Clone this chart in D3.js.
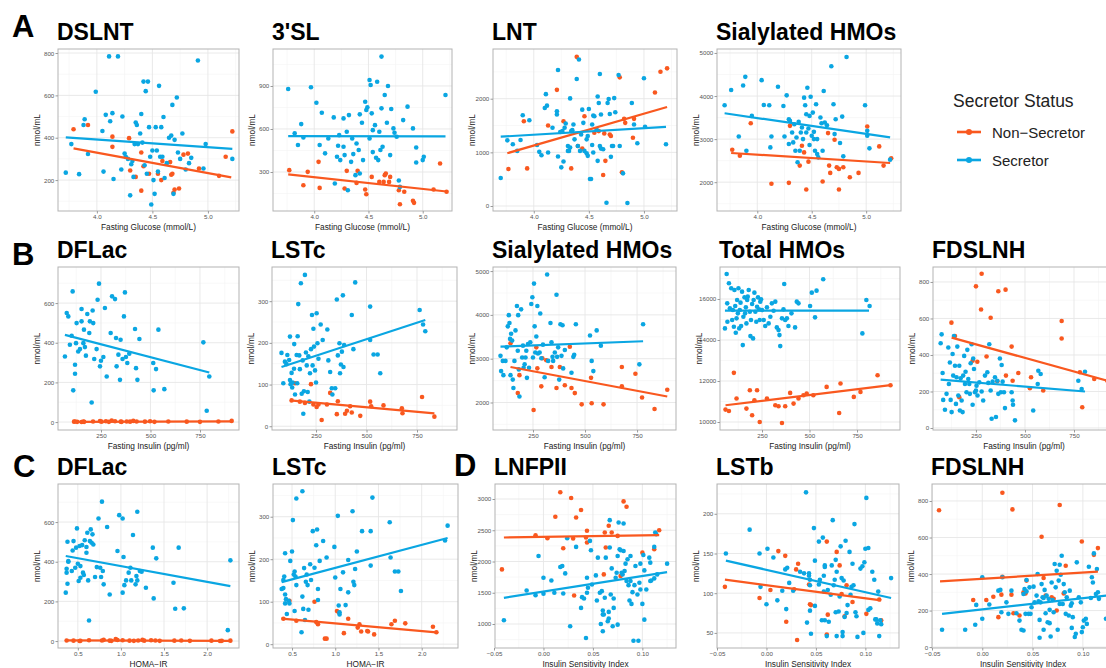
<!DOCTYPE html>
<html>
<head>
<meta charset="utf-8">
<script src="https://cdn.jsdelivr.net/npm/d3@7"></script>
<style>
body { margin: 0; background: #fff; }
</style>
</head>
<body>
<script>
// ---- data: [x, y] pairs ----

// A: fasting glucose
const glucoseTicks = [4.0, 4.5, 5.0];
const dslntSec = [[3.72,235],[3.77,370],[3.84,228],[3.88,460],[3.89,487],[3.92,323],[3.99,617],[4.05,432],[4.06,240],[4.08,508],[4.11,784],[4.12,478],[4.14,516],[4.15,205],[4.19,784],[4.22,250],[4.23,500],[4.25,325],[4.26,310],[4.28,300],[4.30,128],[4.31,275],[4.32,290],[4.33,215],[4.34,370],[4.35,472],[4.36,460],[4.37,370],[4.39,420],[4.40,512],[4.41,377],[4.42,665],[4.43,270],[4.44,620],[4.45,230],[4.46,665],[4.47,450],[4.48,310],[4.49,85],[4.50,340],[4.51,200],[4.52,135],[4.53,450],[4.54,340],[4.55,240],[4.56,645],[4.57,310],[4.58,450],[4.59,310],[4.60,498],[4.61,210],[4.63,280],[4.65,400],[4.67,410],[4.68,555],[4.69,135],[4.70,390],[4.72,590],[4.73,330],[4.75,300],[4.77,420],[4.80,250],[4.83,280],[4.85,305],[4.91,765],[4.96,255],[4.98,370],[5.22,300]];
const dslntNon = [[3.79,440],[3.92,460],[4.14,405],[4.14,357],[4.29,398],[4.30,245],[4.35,215],[4.40,330],[4.40,150],[4.42,265],[4.47,230],[4.55,230],[4.58,200],[4.59,290],[4.66,285],[4.67,225],[4.68,230],[4.69,140],[4.70,155],[4.74,160],[4.78,320],[4.82,325],[4.92,255],[5.10,220],[5.16,310],[5.22,430]];
const dslntSecFit = [[3.72,402],[5.22,347]];
const dslntNonFit = [[3.79,350],[5.21,213]];

const sl3Sec = [[3.76,879],[3.82,570],[3.85,488],[3.88,634],[3.90,541],[3.97,891],[4.02,783],[4.05,488],[4.07,713],[4.10,430],[4.13,534],[4.18,681],[4.19,220],[4.21,406],[4.22,483],[4.23,557],[4.24,383],[4.27,674],[4.27,476],[4.28,418],[4.30,581],[4.31,173],[4.32,697],[4.34,371],[4.35,534],[4.36,425],[4.38,278],[4.39,499],[4.41,453],[4.42,702],[4.42,290],[4.44,644],[4.45,383],[4.47,790],[4.48,732],[4.49,751],[4.51,534],[4.51,942],[4.52,907],[4.53,709],[4.54,592],[4.54,439],[4.56,627],[4.57,399],[4.58,930],[4.59,383],[4.60,581],[4.61,453],[4.62,1105],[4.62,744],[4.63,476],[4.65,837],[4.67,644],[4.68,900],[4.70,418],[4.71,739],[4.73,604],[4.74,574],[4.76,546],[4.78,241],[4.79,196],[4.82,662],[4.86,756],[4.91,604],[4.94,471],[4.94,366],[5.00,383],[5.01,406],[5.21,837]];
const sl3Non = [[3.77,313],[3.90,208],[3.94,301],[4.04,371],[4.05,189],[4.28,185],[4.30,308],[4.39,224],[4.40,308],[4.47,178],[4.48,145],[4.53,266],[4.60,231],[4.64,231],[4.65,278],[4.66,290],[4.69,231],[4.70,266],[4.78,173],[4.79,75],[4.83,162],[4.91,99],[4.92,85],[5.10,178],[5.16,359],[5.22,162]];
const sl3SecFit = [[3.76,550],[5.21,548]];
const sl3NonFit = [[3.76,283],[5.22,164]];

const lntSec = [[3.70,523],[3.76,1224],[3.81,1150],[3.85,1027],[3.88,1230],[3.90,1691],[3.96,1599],[4.03,1138],[4.05,1009],[4.07,947],[4.11,2085],[4.10,1827],[4.12,1870],[4.13,996],[4.17,1458],[4.21,1704],[4.21,1765],[4.22,922],[4.22,2534],[4.24,1378],[4.25,720],[4.26,1396],[4.27,830],[4.28,1458],[4.29,1537],[4.31,1119],[4.31,1027],[4.32,1027],[4.33,1089],[4.33,2005],[4.34,1396],[4.35,1414],[4.36,1519],[4.37,1242],[4.39,2368],[4.40,1119],[4.41,2730],[4.42,1027],[4.43,1334],[4.44,1796],[4.45,1550],[4.46,1027],[4.48,984],[4.48,1242],[4.49,935],[4.49,1304],[4.50,1808],[4.51,504],[4.52,504],[4.53,1138],[4.53,1519],[4.54,996],[4.54,1685],[4.55,1673],[4.57,1427],[4.58,842],[4.58,2042],[4.59,1919],[4.60,1119],[4.60,2460],[4.61,1070],[4.61,1704],[4.63,1058],[4.66,62],[4.67,1919],[4.68,1993],[4.69,1716],[4.70,916],[4.71,1119],[4.72,1119],[4.73,2011],[4.74,1747],[4.77,2442],[4.78,1119],[4.81,609],[4.85,55],[4.89,1919],[4.91,1519],[4.94,1169],[5.00,2380],[5.01,1476],[5.20,1150]];
const lntNon = [[3.77,689],[3.91,1580],[3.94,701],[4.13,1500],[4.21,2165],[4.27,1580],[4.34,701],[4.39,2780],[4.40,1119],[4.44,1070],[4.46,1673],[4.55,1365],[4.59,1396],[4.63,578],[4.64,1353],[4.65,842],[4.69,1334],[4.70,1304],[4.78,2398],[4.80,627],[4.82,1624],[4.83,1550],[4.90,1273],[4.91,1624],[5.10,2116],[5.15,2503],[5.21,2565]];
const lntSecFit = [[3.70,1292],[5.20,1476]];
const lntNonFit = [[3.76,984],[5.21,1845]];

const sialGSec = [[3.70,3785],[3.76,4139],[3.83,3062],[3.87,4246],[3.89,4446],[3.90,2731],[3.95,3539],[4.04,4369],[4.06,3793],[4.11,3785],[4.12,2808],[4.13,3062],[4.19,4216],[4.24,3769],[4.25,3062],[4.27,4016],[4.29,2885],[4.29,3462],[4.30,3423],[4.32,3154],[4.33,2924],[4.34,3346],[4.35,2731],[4.36,3039],[4.37,2462],[4.38,3400],[4.39,2731],[4.40,3154],[4.41,3269],[4.42,3000],[4.43,3962],[4.44,3785],[4.45,3154],[4.45,3577],[4.46,4193],[4.47,3246],[4.48,2862],[4.48,3539],[4.49,3985],[4.50,3077],[4.51,3616],[4.52,3169],[4.52,3000],[4.53,2731],[4.54,3808],[4.55,3000],[4.55,2654],[4.56,2577],[4.58,3500],[4.59,3369],[4.60,2731],[4.61,4116],[4.62,3385],[4.64,3323],[4.68,4692],[4.70,3808],[4.71,3116],[4.72,3462],[4.76,2908],[4.78,3523],[4.79,2600],[4.82,4908],[4.99,3785],[5.01,3077],[5.01,3192],[5.03,2785],[5.22,2523]];
const sialGNon = [[3.77,2754],[3.84,2615],[3.94,3369],[4.13,1962],[4.29,1985],[4.30,3308],[4.39,2385],[4.41,2846],[4.43,2692],[4.45,1831],[4.47,2477],[4.60,2016],[4.65,3139],[4.66,2385],[4.67,2215],[4.71,2985],[4.73,2346],[4.75,2308],[4.75,1831],[4.79,2346],[4.85,2115],[4.93,2215],[5.01,3292],[5.12,2831],[5.16,2385],[5.23,2554]];
const sialGSecFit = [[3.70,3600],[5.22,3039]];
const sialGNonFit = [[3.76,2677],[5.22,2446]];

// B: fasting insulin
const insulinTicks = [250, 500, 750];
const dflacISec = [[68,331],[77,550],[85,533],[93,390],[102,435],[107,659],[110,160],[119,244],[119,289],[124,398],[127,499],[135,356],[144,368],[152,508],[152,570],[161,398],[164,466],[169,378],[174,335],[181,545],[191,449],[194,508],[203,99],[208,563],[211,499],[216,318],[228,368],[233,617],[240,698],[245,281],[250,309],[262,328],[270,575],[279,230],[299,449],[306,634],[321,620],[326,424],[329,281],[338,340],[346,213],[349,415],[359,318],[366,533],[371,654],[376,328],[383,298],[393,345],[422,469],[427,272],[434,213],[444,419],[514,298],[528,267],[540,466],[516,160],[570,166],[767,402],[784,57],[797,230]];
const dflacINon = [[114,2],[119,3],[130,1],[152,0],[161,2],[165,1],[210,3],[245,5],[253,2],[275,4],[290,1],[304,8],[321,4],[350,2],[354,1],[380,3],[397,2],[413,6],[430,3],[472,2],[498,4],[520,1],[590,3],[683,2],[750,1],[843,3],[910,6]];
const dflacISecFit = [[68,440],[797,250]];
const dflacINonFit = [[114,1],[910,4]];

const lstcISec = [[79,176],[88,103],[96,155],[104,149],[108,171],[117,159],[121,215],[121,111],[124,101],[129,128],[132,93],[134,105],[141,138],[142,197],[146,76],[154,171],[157,103],[159,216],[162,293],[167,170],[170,137],[175,343],[179,78],[184,158],[187,30],[190,84],[195,363],[200,177],[204,146],[209,82],[212,168],[217,59],[220,127],[225,185],[230,267],[233,146],[237,234],[240,191],[245,134],[250,105],[253,271],[257,199],[262,162],[273,244],[283,207],[306,232],[311,158],[320,130],[328,91],[331,76],[345,91],[353,304],[358,170],[366,199],[369,127],[373,148],[378,179],[383,314],[386,142],[389,195],[435,185],[444,345],[427,267],[518,287],[518,207],[535,172],[555,172],[568,127],[763,279],[780,244],[791,228]];
const lstcINon = [[129,62],[146,103],[170,59],[195,56],[225,101],[237,52],[253,46],[262,52],[278,15],[304,52],[320,80],[353,29],[358,60],[394,30],[403,37],[419,48],[427,33],[469,25],[518,59],[523,48],[584,50],[675,43],[678,31],[775,70],[836,23]];
const lstcISecFit = [[79,142],[791,255]];
const lstcINonFit = [[121,62],[836,31]];

const sialISec = [[94,3065],[97,2717],[105,2949],[108,2624],[118,2949],[124,3259],[129,3738],[134,3994],[137,3816],[140,3452],[142,2624],[145,3568],[150,3413],[153,2523],[156,2330],[161,2949],[166,3646],[173,4203],[177,3181],[179,3994],[182,2755],[185,2136],[193,4126],[198,3026],[202,3297],[205,2794],[210,2871],[214,3026],[218,3181],[221,2562],[226,3336],[231,2794],[237,3375],[242,4249],[247,4404],[250,3026],[255,4714],[258,3738],[261,3142],[266,3506],[271,4203],[274,3119],[282,3142],[285,4033],[290,3011],[298,3320],[306,2577],[318,4923],[323,2949],[334,3816],[339,3375],[344,3042],[347,2949],[355,3142],[363,4458],[366,3042],[371,3259],[376,2523],[382,3785],[387,3065],[392,3762],[395,2778],[403,3197],[435,2678],[444,3042],[448,3088],[456,3785],[524,3529],[532,2949],[540,2717],[556,3646],[576,3297],[761,2871],[779,3785]];
const sialINon = [[142,3352],[177,2214],[185,2624],[253,1827],[266,3259],[271,2779],[290,2368],[295,3011],[314,2964],[339,2810],[363,2330],[379,2810],[403,2392],[427,3274],[435,2330],[451,2214],[484,1958],[529,2562],[532,1981],[589,1958],[677,2810],[677,2368],[742,2655],[774,2113],[834,1850],[895,2291]];
const sialISecFit = [[94,3274],[779,3398]];
const sialINonFit = [[142,2810],[895,2136]];

const totalISec = [[55,14566],[64,17223],[67,15788],[68,14892],[76,16766],[81,15544],[88,16522],[93,14973],[97,15462],[102,14647],[105,16440],[109,15658],[112,14354],[116,15055],[119,15951],[123,15299],[126,16522],[130,14566],[133,15462],[137,15821],[140,14680],[145,16359],[149,13751],[152,15136],[158,16081],[161,15299],[165,15592],[168,14810],[172,15951],[175,16114],[180,16440],[186,15381],[189,14190],[192,14973],[198,15756],[203,14077],[206,15951],[210,16310],[215,15381],[220,14892],[224,15625],[229,16081],[234,15495],[238,14973],[241,15870],[245,15984],[250,15462],[259,14973],[267,14680],[276,15592],[285,14810],[294,15136],[302,15788],[311,15430],[320,15870],[328,14614],[337,14484],[342,14240],[346,13702],[355,15055],[363,15495],[367,16734],[372,14973],[381,15055],[389,14680],[405,15299],[424,14614],[433,15870],[442,15788],[503,15658],[512,16310],[529,15104],[537,16407],[572,16962],[778,14321],[799,15951],[816,15658]];
const totalINon = [[58,10605],[76,10540],[102,12398],[116,11145],[168,10654],[186,11550],[198,10328],[210,11061],[224,11550],[238,10002],[276,11145],[320,10817],[337,10768],[355,9953],[372,10768],[398,11420],[416,10898],[442,11145],[468,11306],[485,11387],[520,11306],[590,11713],[656,10442],[663,11876],[733,11225],[768,11469],[858,12284],[926,11795]];
const totalISecFit = [[55,15430],[813,15430]];
const totalINonFit = [[58,10817],[926,11795]];

const fdslnhISec = [[70,464],[75,513],[80,301],[83,154],[92,100],[100,187],[109,441],[112,241],[117,359],[121,154],[126,87],[131,405],[134,287],[138,504],[143,341],[148,132],[151,278],[155,446],[160,178],[165,341],[168,96],[172,272],[177,151],[182,87],[185,287],[190,395],[194,241],[197,308],[202,196],[206,428],[211,268],[216,241],[219,187],[223,355],[228,459],[233,127],[236,381],[240,323],[245,196],[250,205],[253,232],[258,178],[267,250],[279,200],[287,151],[296,287],[308,305],[313,247],[318,459],[325,205],[330,51],[335,254],[347,278],[352,60],[359,259],[364,187],[372,381],[377,196],[381,345],[386,254],[393,196],[398,109],[432,196],[437,151],[439,127],[449,42],[542,96],[565,241],[568,314],[580,296],[772,259],[789,214],[806,308]];
const fdslnhINon = [[125,577],[143,504],[165,169],[233,368],[250,776],[257,363],[279,845],[276,649],[304,392],[325,604],[359,256],[364,749],[401,758],[403,287],[432,446],[437,259],[466,301],[525,218],[531,278],[593,205],[687,586],[687,490],[780,305],[792,114],[853,268],[920,259]];
const fdslnhISecFit = [[70,265],[806,200]];
const fdslnhINonFit = [[126,495],[920,259]];

// C: HOMA-IR
const homaTicks = [0.5, 1.0, 1.5, 2.0];
const dflacHSec = [[0.36,244],[0.37,365],[0.37,345],[0.38,501],[0.38,289],[0.39,403],[0.39,400],[0.43,353],[0.44,457],[0.45,504],[0.47,370],[0.48,471],[0.49,568],[0.50,390],[0.51,303],[0.52,479],[0.53,319],[0.53,378],[0.55,484],[0.56,345],[0.57,333],[0.58,508],[0.60,474],[0.60,445],[0.61,546],[0.62,306],[0.63,104],[0.64,504],[0.65,563],[0.66,496],[0.67,538],[0.68,487],[0.70,323],[0.72,373],[0.74,618],[0.76,370],[0.77,323],[0.78,703],[0.79,353],[0.80,286],[0.84,575],[0.87,235],[0.96,454],[0.98,635],[1.02,618],[1.02,244],[1.03,424],[1.04,282],[1.06,306],[1.09,345],[1.11,370],[1.12,306],[1.14,535],[1.17,286],[1.18,328],[1.19,306],[1.19,652],[1.22,353],[1.24,350],[1.29,269],[1.37,471],[1.38,215],[1.41,417],[1.61,294],[1.63,163],[1.67,471],[1.73,165],[2.24,55],[2.27,407]];
const dflacHNon = [[0.37,3],[0.45,2],[0.52,0],[0.53,1],[0.63,4],[0.78,3],[0.80,6],[0.87,2],[0.89,1],[0.94,10],[0.96,5],[1.02,4],[1.10,2],[1.15,1],[1.20,3],[1.25,6],[1.27,2],[1.35,4],[1.40,3],[1.45,1],[1.62,2],[1.70,3],[1.80,1],[2.05,2],[2.15,0],[2.17,1],[2.27,2]];
const dflacHSecFit = [[0.36,429],[2.27,277]];
const dflacHNonFit = [[0.37,3],[2.27,1]];

const lstcHSec = [[0.38,130],[0.40,151],[0.40,132],[0.41,159],[0.42,214],[0.42,117],[0.42,96],[0.43,106],[0.44,71],[0.46,102],[0.47,96],[0.48,196],[0.50,218],[0.51,292],[0.52,164],[0.53,171],[0.53,78],[0.54,159],[0.55,343],[0.55,139],[0.61,28],[0.62,360],[0.62,112],[0.63,83],[0.64,179],[0.65,57],[0.66,147],[0.67,164],[0.68,139],[0.69,81],[0.71,188],[0.72,151],[0.74,266],[0.76,180],[0.78,233],[0.79,270],[0.80,130],[0.80,104],[0.82,196],[0.86,243],[0.90,204],[0.99,229],[1.00,157],[1.03,302],[1.04,91],[1.05,75],[1.05,70],[1.06,130],[1.09,169],[1.12,92],[1.15,122],[1.15,198],[1.20,313],[1.21,147],[1.22,139],[1.23,177],[1.25,218],[1.31,266],[1.41,266],[1.41,185],[1.43,345],[1.63,287],[1.64,204],[1.69,171],[1.73,171],[1.76,125],[2.27,244],[2.30,279]];
const lstcHNon = [[0.40,60],[0.47,102],[0.55,55],[0.76,100],[0.78,52],[0.80,47],[0.88,13],[0.90,13],[1.02,78],[1.04,75],[1.10,26],[1.15,60],[1.26,39],[1.28,47],[1.30,30],[1.37,31],[1.38,30],[1.45,23],[1.65,47],[1.69,55],[1.81,49],[2.13,41],[2.17,28]];
const lstcHSecFit = [[0.38,146],[2.30,250]];
const lstcHNonFit = [[0.38,60],[2.17,28]];

// D: insulin sensitivity index
const isiTicks = [-0.05, 0.00, 0.05, 0.10];
const lnfp2Sec = [[-0.040,1060],[-0.017,1537],[-0.008,1462],[-0.005,2089],[0.000,1483],[0.000,1740],[0.008,1697],[0.011,1499],[0.017,1912],[0.019,1928],[0.020,1488],[0.022,1810],[0.024,2373],[0.027,963],[0.033,2234],[0.038,1258],[0.039,1430],[0.041,1408],[0.043,776],[0.044,1499],[0.044,1740],[0.045,1580],[0.047,2330],[0.048,2180],[0.049,1633],[0.053,1778],[0.054,1376],[0.055,2062],[0.057,1499],[0.058,1000],[0.059,1526],[0.060,1215],[0.060,1151],[0.060,883],[0.061,1151],[0.062,1419],[0.063,2062],[0.065,1044],[0.066,1087],[0.066,1194],[0.067,2223],[0.067,2662],[0.068,1472],[0.069,1890],[0.070,963],[0.071,1258],[0.071,1408],[0.073,1740],[0.074,1821],[0.075,2089],[0.075,990],[0.076,2625],[0.077,2196],[0.078,2180],[0.079,1821],[0.080,1794],[0.081,2609],[0.081,2169],[0.082,1848],[0.083,1966],[0.084,1687],[0.085,2035],[0.086,1622],[0.087,1376],[0.088,2089],[0.088,1687],[0.089,1322],[0.090,1510],[0.091,733],[0.092,1622],[0.093,1928],[0.095,1472],[0.096,733],[0.097,1660],[0.098,1553],[0.098,1966],[0.100,1322],[0.101,2105],[0.102,1070],[0.102,1858],[0.104,1553],[0.107,2062],[0.108,1982],[0.108,1687],[0.109,1697],[0.112,1730],[0.112,2234],[0.113,2464],[0.114,2437],[0.115,1794],[0.125,1966]];
const lnfp2Non = [[-0.042,1874],[-0.008,2421],[0.004,2373],[0.012,2716],[0.017,3107],[0.020,2212],[0.028,3016],[0.030,2368],[0.031,1456],[0.033,2705],[0.038,2823],[0.043,2384],[0.044,2303],[0.044,2491],[0.061,1794],[0.062,2464],[0.063,2223],[0.066,2571],[0.069,2464],[0.075,2410],[0.078,1767],[0.081,2962],[0.084,2877],[0.100,2142],[0.112,2196],[0.117,2501]];
const lnfp2SecFit = [[-0.040,1419],[0.125,1831]];
const lnfp2NonFit = [[-0.040,2384],[0.117,2421]];

const lstbSec = [[-0.041,150],[-0.017,180],[-0.007,150],[-0.006,108],[0.000,86],[0.001,156],[0.007,145],[0.011,91],[0.016,103],[0.019,130],[0.020,80],[0.021,132],[0.023,113],[0.027,103],[0.034,127],[0.038,125],[0.040,227],[0.041,63],[0.043,125],[0.043,122],[0.044,117],[0.044,110],[0.044,78],[0.045,49],[0.048,182],[0.049,141],[0.049,84],[0.053,165],[0.053,111],[0.054,117],[0.056,66],[0.057,170],[0.058,122],[0.058,102],[0.059,135],[0.059,133],[0.059,66],[0.061,46],[0.062,104],[0.063,64],[0.065,98],[0.066,135],[0.067,192],[0.068,110],[0.069,117],[0.070,142],[0.070,76],[0.071,46],[0.071,127],[0.073,77],[0.074,96],[0.075,159],[0.076,119],[0.077,46],[0.077,51],[0.078,116],[0.079,70],[0.080,166],[0.081,75],[0.082,85],[0.084,152],[0.085,98],[0.086,108],[0.087,137],[0.088,110],[0.089,187],[0.090,76],[0.091,71],[0.092,45],[0.095,131],[0.097,134],[0.098,50],[0.099,139],[0.100,156],[0.101,220],[0.103,157],[0.103,79],[0.105,81],[0.107,127],[0.109,117],[0.110,67],[0.111,67],[0.112,62],[0.113,102],[0.114,46],[0.115,66],[0.116,61],[0.126,119]];
const lstbNon = [[-0.042,108],[-0.007,94],[0.004,104],[0.012,153],[0.019,147],[0.020,64],[0.028,105],[0.030,130],[0.032,137],[0.031,41],[0.043,111],[0.044,86],[0.045,85],[0.061,165],[0.062,73],[0.061,48],[0.071,152],[0.074,135],[0.076,99],[0.079,71],[0.081,110],[0.087,89],[0.101,74],[0.114,92],[0.116,66]];
const lstbSecFit = [[-0.041,141],[0.126,94]];
const lstbNonFit = [[-0.042,117],[0.116,91]];

const fdslnhSSec = [[-0.040,95],[-0.017,95],[-0.007,122],[-0.006,231],[0.000,155],[0.000,382],[0.007,233],[0.016,309],[0.018,313],[0.019,191],[0.020,382],[0.024,245],[0.026,182],[0.029,309],[0.034,185],[0.037,145],[0.039,95],[0.041,291],[0.041,91],[0.042,318],[0.043,182],[0.044,367],[0.044,305],[0.046,182],[0.047,327],[0.048,182],[0.049,218],[0.051,331],[0.052,245],[0.054,282],[0.055,400],[0.056,251],[0.057,51],[0.057,149],[0.058,245],[0.059,345],[0.060,273],[0.061,95],[0.061,269],[0.062,313],[0.063,185],[0.064,282],[0.065,136],[0.066,264],[0.067,204],[0.067,131],[0.068,58],[0.069,354],[0.070,258],[0.071,191],[0.072,455],[0.073,327],[0.074,418],[0.075,95],[0.076,364],[0.077,236],[0.077,451],[0.078,396],[0.079,500],[0.080,236],[0.081,345],[0.082,300],[0.083,182],[0.084,273],[0.086,173],[0.087,309],[0.088,227],[0.089,240],[0.089,105],[0.090,164],[0.092,55],[0.093,73],[0.094,464],[0.096,273],[0.098,245],[0.099,82],[0.100,109],[0.101,145],[0.103,155],[0.104,127],[0.106,440],[0.108,269],[0.109,382],[0.110,354],[0.111,513],[0.113,291],[0.114,427],[0.115,300],[0.116,264],[0.123,155]];
const fdslnhSNon = [[-0.043,749],[-0.009,258],[0.004,258],[0.011,276],[0.016,164],[0.019,287],[0.020,385],[0.020,845],[0.029,287],[0.030,754],[0.031,185],[0.037,173],[0.041,300],[0.044,364],[0.043,294],[0.059,604],[0.061,378],[0.063,282],[0.069,273],[0.071,264],[0.074,200],[0.077,778],[0.083,445],[0.081,294],[0.099,578],[0.111,505],[0.115,542]];
const fdslnhSSecFit = [[-0.040,182],[0.124,282]];
const fdslnhSNonFit = [[-0.042,360],[0.115,413]];

const legendLabels = ["Non\u2212Secretor", "Secretor"];

// ---- layout ----
const width = 1106, height = 668;
const NON = "#F9581F", SEC = "#0AA6E2";
const font = "'Liberation Sans', Arial, Helvetica, sans-serif";

const rowA = [49, 211], rowB = [267, 430], rowC = [484, 648];

const panels = [
	{ box: [58, rowA[0], 239, rowA[1]], titleY: 40, title: "DSLNT", xDomain: [3.65, 5.28], yDomain: [54, 819], xTicks: glucoseTicks, yTicks: [200, 400, 600, 800], xFmt: ".1f", xTitle: "Fasting Glucose (mmol/L)", sec: dslntSec, non: dslntNon, secFit: dslntSecFit, nonFit: dslntNonFit },
	{ box: [273, rowA[0], 452, rowA[1]], titleY: 40, title: "3'SL", xDomain: [3.62, 5.27], yDomain: [28, 1158], xTicks: glucoseTicks, yTicks: [300, 600, 900], xFmt: ".1f", xTitle: "Fasting Glucose (mmol/L)", sec: sl3Sec, non: sl3Non, secFit: sl3SecFit, nonFit: sl3NonFit },
	{ box: [493, rowA[0], 677, rowA[1]], titleY: 40, title: "LNT", xDomain: [3.63, 5.30], yDomain: [-93, 2926], xTicks: glucoseTicks, yTicks: [0, 1000, 2000], xFmt: ".1f", xTitle: "Fasting Glucose (mmol/L)", sec: lntSec, non: lntNon, secFit: lntSecFit, nonFit: lntNonFit },
	{ box: [717, rowA[0], 901, rowA[1]], titleY: 40, title: "Sialylated HMOs", xDomain: [3.63, 5.32], yDomain: [1331, 5092], xTicks: glucoseTicks, yTicks: [2000, 3000, 4000, 5000], xFmt: ".1f", xTitle: "Fasting Glucose (mmol/L)", sec: sialGSec, non: sialGNon, secFit: sialGSecFit, nonFit: sialGNonFit },

	{ box: [58, rowB[0], 239, rowB[1]], titleY: 258, title: "DFLac", xDomain: [33, 947], yDomain: [-40, 782], xTicks: insulinTicks, yTicks: [0, 200, 400, 600], xFmt: "d", xTitle: "Fasting Insulin (pg/ml)", sec: dflacISec, non: dflacINon, secFit: dflacISecFit, nonFit: dflacINonFit },
	{ box: [272, rowB[0], 457, rowB[1]], titleY: 258, title: "LSTc", xDomain: [32, 948], yDomain: [-9, 382], xTicks: insulinTicks, yTicks: [0, 100, 200, 300], xFmt: "d", xTitle: "Fasting Insulin (pg/ml)", sec: lstcISec, non: lstcINon, secFit: lstcISecFit, nonFit: lstcINonFit },
	{ box: [493, rowB[0], 676, rowB[1]], titleY: 258, title: "Sialylated HMOs", xDomain: [58, 937], yDomain: [1372, 5093], xTicks: insulinTicks, yTicks: [2000, 3000, 4000, 5000], xFmt: "d", xTitle: "Fasting Insulin (pg/ml)", sec: sialISec, non: sialINon, secFit: sialISecFit, nonFit: sialINonFit },
	{ box: [720, rowB[0], 900, rowB[1]], titleY: 258, title: "Total HMOs", xDomain: [29, 976], yDomain: [9610, 17561], xTicks: insulinTicks, yTicks: [10000, 12000, 14000, 16000], xFmt: "d", xTitle: "Fasting Insulin (pg/ml)", sec: totalISec, non: totalINon, secFit: totalISecFit, nonFit: totalINonFit },
	{ box: [933, rowB[0], 1115, rowB[1]], titleY: 258, title: "FDSLNH", xDomain: [31, 959], yDomain: [-11, 882], xTicks: insulinTicks, yTicks: [0, 200, 400, 600, 800], xFmt: "d", xTitle: "Fasting Insulin (pg/ml)", sec: fdslnhISec, non: fdslnhINon, secFit: fdslnhISecFit, nonFit: fdslnhINonFit },

	{ box: [58, rowC[0], 239, rowC[1]], titleY: 475, title: "DFLac", xDomain: [0.27, 2.37], yDomain: [-35, 792], xTicks: homaTicks, yTicks: [0, 200, 400, 600], xFmt: ".1f", xTitle: "HOMA\u2212IR", sec: dflacHSec, non: dflacHNon, secFit: dflacHSecFit, nonFit: dflacHNonFit },
	{ box: [273, rowC[0], 458, rowC[1]], titleY: 475, title: "LSTc", xDomain: [0.28, 2.42], yDomain: [-9, 377], xTicks: homaTicks, yTicks: [0, 100, 200, 300], xFmt: ".1f", xTitle: "HOMA\u2212IR", sec: lstcHSec, non: lstcHNon, secFit: lstcHSecFit, nonFit: lstcHNonFit },
	{ box: [495, rowC[0], 676, rowC[1]], titleY: 475, title: "LNFPII", xDomain: [-0.049, 0.134], yDomain: [616, 3240], xTicks: isiTicks, yTicks: [1000, 1500, 2000, 2500, 3000], xFmt: ".2f", xTitle: "Insulin Sensitivity Index", sec: lnfp2Sec, non: lnfp2Non, secFit: lnfp2SecFit, nonFit: lnfp2NonFit },
	{ box: [717, rowC[0], 899, rowC[1]], titleY: 475, title: "LSTb", xDomain: [-0.05, 0.134], yDomain: [31, 237.5], xTicks: isiTicks, yTicks: [50, 100, 150, 200], xFmt: ".2f", xTitle: "Insulin Sensitivity Index", sec: lstbSec, non: lstbNon, secFit: lstbSecFit, nonFit: lstbNonFit },
	{ box: [932, rowC[0], 1114, rowC[1]], titleY: 475, title: "FDSLNH", xDomain: [-0.05, 0.131], yDomain: [-5, 893], xTicks: isiTicks, yTicks: [0, 200, 400, 600, 800], xFmt: ".2f", xTitle: "Insulin Sensitivity Index", sec: fdslnhSSec, non: fdslnhSNon, secFit: fdslnhSSecFit, nonFit: fdslnhSNonFit }
];

const svg = d3.select("body").append("svg")
	.attr("width", width)
	.attr("height", height)
	.style("font-family", font);

svg.append("rect").attr("width", width).attr("height", height).attr("fill", "#fff");

// minor grid sits half way between the major ticks
function minorTicks(ticks, dom) {
	let step = ticks[1] - ticks[0];
	let out = [];
	for (let k = -2; k < ticks.length + 2; k++) {
		let v = ticks[0] + step * (k - 0.5);
		if (v >= dom[0] && v <= dom[1]) out.push(v);
	}
	return out;
}

panels.forEach(drawPanel);

function drawPanel(p, i) {
	let [bx0, by0, bx1, by1] = p.box;
	let x = d3.scaleLinear().domain(p.xDomain).range([bx0, bx1]);
	let y = d3.scaleLinear().domain(p.yDomain).range([by1, by0]);
	let g = svg.append("g");

	g.append("clipPath").attr("id", "clip" + i)
		.append("rect").attr("x", bx0).attr("y", by0).attr("width", bx1 - bx0).attr("height", by1 - by0);

	let inner = g.append("g").attr("clip-path", `url(#clip${i})`);

	inner.selectAll(".mx").data(minorTicks(p.xTicks, p.xDomain)).join("line")
		.attr("x1", d => x(d)).attr("x2", d => x(d)).attr("y1", by0).attr("y2", by1)
		.attr("stroke", "#f4f4f4").attr("stroke-width", 0.6);
	inner.selectAll(".my").data(minorTicks(p.yTicks, p.yDomain)).join("line")
		.attr("y1", d => y(d)).attr("y2", d => y(d)).attr("x1", bx0).attr("x2", bx1)
		.attr("stroke", "#f4f4f4").attr("stroke-width", 0.6);
	inner.selectAll(".gx").data(p.xTicks).join("line")
		.attr("x1", d => x(d)).attr("x2", d => x(d)).attr("y1", by0).attr("y2", by1)
		.attr("stroke", "#e6e6e6").attr("stroke-width", 0.9);
	inner.selectAll(".gy").data(p.yTicks).join("line")
		.attr("y1", d => y(d)).attr("y2", d => y(d)).attr("x1", bx0).attr("x2", bx1)
		.attr("stroke", "#e6e6e6").attr("stroke-width", 0.9);

	inner.selectAll(".pn").data(p.non).join("circle")
		.attr("cx", d => x(d[0])).attr("cy", d => y(d[1])).attr("r", 2.3).attr("fill", NON);
	inner.selectAll(".ps").data(p.sec).join("circle")
		.attr("cx", d => x(d[0])).attr("cy", d => y(d[1])).attr("r", 2.3).attr("fill", SEC);

	let line = d3.line().x(d => x(d[0])).y(d => y(d[1]));
	inner.append("path").attr("d", line(p.nonFit)).attr("stroke", NON).attr("stroke-width", 2.2).attr("fill", "none");
	inner.append("path").attr("d", line(p.secFit)).attr("stroke", SEC).attr("stroke-width", 2.2).attr("fill", "none");

	g.append("rect").attr("x", bx0).attr("y", by0).attr("width", bx1 - bx0).attr("height", by1 - by0)
		.attr("fill", "none").attr("stroke", "#b3b3b3").attr("stroke-width", 1);

	let xAxis = g.append("g").attr("transform", `translate(0,${by1})`)
		.call(d3.axisBottom(x).tickValues(p.xTicks).tickFormat(d3.format(p.xFmt)).tickSize(2.5).tickPadding(1.2));
	let yAxis = g.append("g").attr("transform", `translate(${bx0},0)`)
		.call(d3.axisLeft(y).tickValues(p.yTicks).tickFormat(d3.format("d")).tickSize(2.5).tickPadding(1.2));
	[xAxis, yAxis].forEach(a => {
		a.select(".domain").remove();
		a.attr("font-family", font).attr("font-size", 6.2);
		a.selectAll("line").attr("stroke", "#9a9a9a");
		a.selectAll("text").attr("fill", "#555");
	});

	g.append("text").text(p.xTitle)
		.attr("x", (bx0 + bx1) / 2).attr("y", by1 + 18.5)
		.attr("text-anchor", "middle").attr("font-size", 8.3).attr("fill", "#222");

	g.append("text").text("nmol/mL")
		.attr("transform", `translate(${bx0 - 18},${(by0 + by1) / 2}) rotate(-90)`)
		.attr("text-anchor", "middle").attr("font-size", 8.3).attr("fill", "#222");

	g.append("text").text(p.title)
		.attr("x", bx0 - 1).attr("y", p.titleY)
		.attr("font-size", 23).attr("font-weight", "bold").attr("fill", "#000");
}

// panel letters
const letters = [["A", 12, 37], ["B", 12, 265], ["C", 13, 477], ["D", 454, 476]];
svg.selectAll(".letter").data(letters).join("text")
	.attr("x", d => d[1]).attr("y", d => d[2]).text(d => d[0])
	.attr("font-size", 31).attr("font-weight", "bold").attr("fill", "#000");

// legend
let legend = svg.append("g");
legend.append("text").text("Secretor Status")
	.attr("x", 953).attr("y", 107).attr("font-size", 17.5).attr("fill", "#222");
let items = legend.selectAll(".item").data(legendLabels).join("g")
	.attr("transform", (d, i) => `translate(0,${132 + i * 28})`);
items.append("line").attr("x1", 957).attr("x2", 981).attr("y1", 0).attr("y2", 0)
	.attr("stroke", (d, i) => i ? SEC : NON).attr("stroke-width", 2.6);
items.append("circle").attr("cx", 969).attr("cy", 0).attr("r", 3)
	.attr("fill", (d, i) => i ? SEC : NON);
items.append("text").text(d => d)
	.attr("x", 992).attr("y", 5.5).attr("font-size", 15).attr("fill", "#222");
</script>
</body>
</html>
